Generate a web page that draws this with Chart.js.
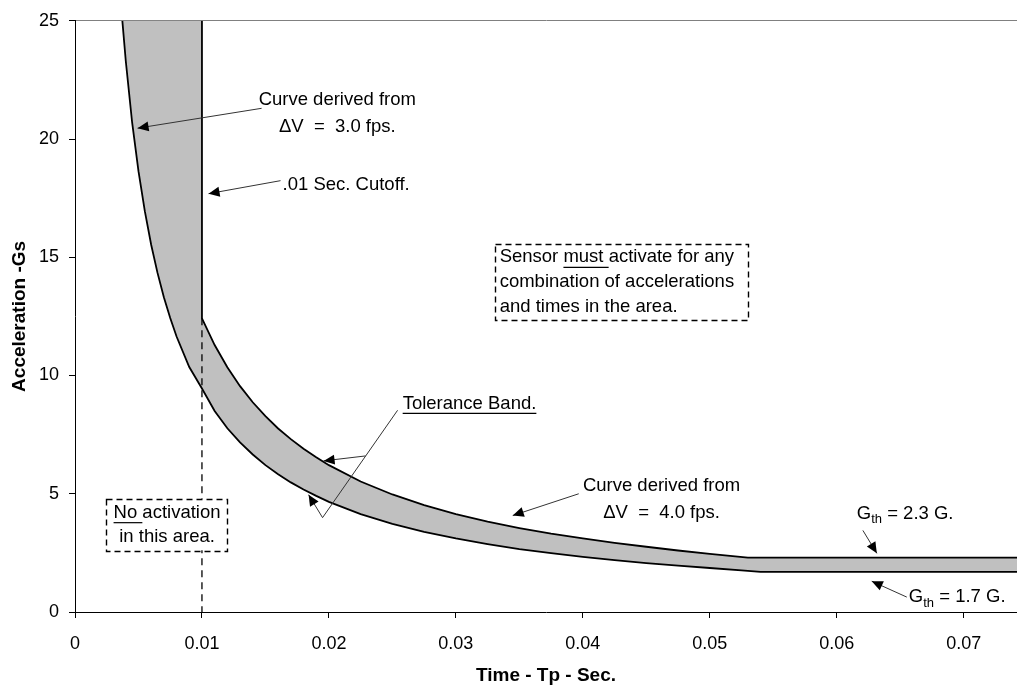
<!DOCTYPE html>
<html>
<head>
<meta charset="utf-8">
<script src="https://cdn.jsdelivr.net/npm/chart.js@4.4.0/dist/chart.umd.min.js"></script>
<style>
  html, body { margin: 0; padding: 0; background: #fff; }
  #wrap { width: 1017px; height: 685px; }
</style>
</head>
<body>
<div id="wrap"><canvas id="accelChart" width="1017" height="685"></canvas></div>
<script>
// tick labels
const xTicks = [0, 0.01, 0.02, 0.03, 0.04, 0.05, 0.06, 0.07];
const yTicks = [0, 5, 10, 15, 20, 25];

// lower curve (dV = 3.0 fps, floor at 1.7 G)
const lowerTime  = [0.00373, 0.004, 0.0045, 0.005, 0.0055, 0.006, 0.0065, 0.007, 0.0075, 0.008, 0.009, 0.010,
                    0.011, 0.012, 0.013, 0.014, 0.015, 0.016, 0.017, 0.018, 0.019, 0.020, 0.0225, 0.025,
                    0.0275, 0.030, 0.0325, 0.035, 0.0375, 0.040, 0.0425, 0.045, 0.0475, 0.050, 0.0525, 0.054, 0.075];
const lowerAccel = [25, 23.3, 20.7, 18.64, 16.95, 15.53, 14.34, 13.31, 12.43, 11.65, 10.36, 9.45,
                    8.5, 7.77, 7.17, 6.66, 6.21, 5.83, 5.48, 5.18, 4.91, 4.66, 4.14, 3.73,
                    3.39, 3.11, 2.87, 2.66, 2.49, 2.33, 2.19, 2.07, 1.96, 1.86, 1.76, 1.7, 1.7];

// upper boundary (.01 sec cutoff, then dV = 4.0 fps, floor at 2.3 G)
const upperTime  = [0.010, 0.010, 0.011, 0.012, 0.013, 0.014, 0.015, 0.016, 0.017, 0.018, 0.019, 0.020,
                    0.0225, 0.025, 0.0275, 0.030, 0.0325, 0.035, 0.0375, 0.040, 0.0425, 0.045, 0.0475,
                    0.050, 0.053, 0.075];
const upperAccel = [25, 12.42, 11.29, 10.35, 9.55, 8.87, 8.28, 7.76, 7.31, 6.9, 6.54, 6.21,
                    5.52, 4.97, 4.52, 4.14, 3.82, 3.55, 3.31, 3.11, 2.92, 2.76, 2.6,
                    2.46, 2.3, 2.3];

const cutoffTime = 0.01;

const FONT = '"Liberation Sans", Arial, sans-serif';

const lowerPts = lowerTime.map((t, i) => ({ x: t, y: lowerAccel[i] }));
const upperPts = upperTime.map((t, i) => ({ x: t, y: upperAccel[i] }));
const bandPts = lowerPts.concat(upperPts.slice().reverse());

// annotations: arrows, labels, dashed boxes
const notesPlugin = {
    id: 'notes',
    afterDatasetsDraw(chart) {
        const ctx = chart.ctx;
        const X = v => chart.scales.x.getPixelForValue(v);
        const Y = v => chart.scales.y.getPixelForValue(v);
        const f = (s, b) => (b ? 'bold ' : '') + s + 'px ' + FONT;

        ctx.save();
        ctx.fillStyle = '#000';
        ctx.textBaseline = 'middle';

        function line(x1, y1, x2, y2, color) {
            ctx.beginPath();
            ctx.strokeStyle = color || '#333';
            ctx.lineWidth = 1;
            ctx.moveTo(X(x1), Y(y1));
            ctx.lineTo(X(x2), Y(y2));
            ctx.stroke();
        }
        function arrow(x1, y1, x2, y2) {
            line(x1, y1, x2, y2);
            const ax = X(x2), ay = Y(y2);
            const ang = Math.atan2(ay - Y(y1), ax - X(x1));
            const len = 11, hw = 5;
            ctx.beginPath();
            ctx.fillStyle = '#000';
            ctx.moveTo(ax, ay);
            ctx.lineTo(ax - len * Math.cos(ang) + hw * Math.sin(ang), ay - len * Math.sin(ang) - hw * Math.cos(ang));
            ctx.lineTo(ax - len * Math.cos(ang) - hw * Math.sin(ang), ay - len * Math.sin(ang) + hw * Math.cos(ang));
            ctx.closePath();
            ctx.fill();
        }
        function text(str, x, y, align, dy) {
            ctx.font = f(18.5);
            ctx.textAlign = align || 'left';
            ctx.fillStyle = '#000';
            ctx.fillText(str, X(x), Y(y) + (dy || 0));
        }
        function underline(px, py, w) {
            ctx.beginPath();
            ctx.strokeStyle = '#000';
            ctx.lineWidth = 1.2;
            ctx.moveTo(px, py);
            ctx.lineTo(px + w, py);
            ctx.stroke();
        }
        function dashedBox(x1, y1, x2, y2) {
            const l = X(x1), t = Y(y1), r = X(x2), b = Y(y2);
            ctx.fillStyle = '#fff';
            ctx.fillRect(l, t, r - l, b - t);
            ctx.beginPath();
            ctx.setLineDash([6, 4]);
            ctx.strokeStyle = '#000';
            ctx.lineWidth = 1.4;
            ctx.strokeRect(Math.round(l) + 0.5, Math.round(t) + 0.5, Math.round(r - l), Math.round(b - t));
            ctx.setLineDash([]);
        }
        function gth(x, y, rest) {
            const px = X(x), py = Y(y);
            ctx.textAlign = 'left';
            ctx.fillStyle = '#000';
            ctx.font = f(18.5);
            ctx.fillText('G', px, py);
            let w = ctx.measureText('G').width;
            ctx.font = f(13);
            ctx.fillText('th', px + w, py + 6);
            w += ctx.measureText('th').width;
            ctx.font = f(18.5);
            ctx.fillText(rest, px + w, py);
        }

        // curve derived from 3.0 fps
        text('Curve derived from', 0.02066, 21.64, 'center');
        text('\u0394V  =  3.0 fps.', 0.02066, 21.64, 'center', 27);
        arrow(0.0147, 21.30, 0.00493, 20.46);

        // .01 sec cutoff
        text('.01 Sec. Cutoff.', 0.01635, 18.07, 'left');
        arrow(0.01619, 18.24, 0.01052, 17.69);

        // sensor must activate box
        dashedBox(0.03305, 15.55, 0.05299, 12.35);
        text('Sensor must activate for any', 0.03345, 15.0, 'left');
        text('combination of accelerations', 0.03345, 15.0, 'left', 25);
        text('and times in the area.', 0.03345, 15.0, 'left', 50);
        ctx.font = f(18.5);
        underline(X(0.03345) + ctx.measureText('Sensor ').width, Y(15.0) + 10,
                  ctx.measureText('must ').width);

        // tolerance band
        text('Tolerance Band.', 0.02581, 8.82, 'left');
        ctx.font = f(18.5);
        underline(X(0.02581), Y(8.82) + 10, ctx.measureText('Tolerance Band.').width);
        line(0.02541, 8.53, 0.0195, 3.99);
        arrow(0.0195, 3.99, 0.0184, 4.96);
        arrow(0.02289, 6.60, 0.01958, 6.39);

        // curve derived from 4.0 fps
        text('Curve derived from', 0.0462, 5.34, 'center');
        text('\u0394V  =  4.0 fps.', 0.0462, 5.34, 'center', 27);
        arrow(0.03968, 5.0, 0.03448, 4.08);

        // thresholds
        gth(0.06158, 4.16, ' = 2.3 G.');
        arrow(0.06206, 3.45, 0.06316, 2.48);
        gth(0.06568, 0.63, ' = 1.7 G.');
        arrow(0.06552, 0.63, 0.06276, 1.30);

        // no activation box
        dashedBox(0.00248, 4.79, 0.01202, 2.61);
        text('No activation', 0.00725, 4.2, 'center');
        text('in this area.', 0.00725, 4.2, 'center', 24);
        ctx.font = f(18.5);
        const full = ctx.measureText('No activation').width;
        underline(X(0.00725) - full / 2, Y(4.2) + 10, ctx.measureText('No ').width);

        ctx.restore();
    }
};

new Chart(document.getElementById('accelChart'), {
    type: 'scatter',
    data: {
        datasets: [
            {
                label: 'dV 3.0 fps',
                data: lowerPts,
                showLine: true,
                borderColor: '#000',
                borderWidth: 1.8,
                pointRadius: 0,
                fill: false,
                order: 0
            },
            {
                label: 'upper',
                data: upperPts,
                showLine: true,
                borderColor: '#000',
                borderWidth: 1.8,
                pointRadius: 0,
                fill: false,
                order: 0
            },
            {
                label: 'cutoff',
                data: [{ x: cutoffTime, y: upperAccel[1] }, { x: cutoffTime, y: 0 }],
                showLine: true,
                borderColor: '#000',
                borderWidth: 1.3,
                borderDash: [7, 5],
                pointRadius: 0,
                fill: false,
                order: 1
            },
            {
                label: 'band',
                data: bandPts,
                showLine: true,
                borderColor: 'rgba(0,0,0,0)',
                borderWidth: 0,
                backgroundColor: '#c0c0c0',
                pointRadius: 0,
                fill: 'shape',
                order: 3
            }
        ]
    },
    options: {
        responsive: false,
        animation: false,
        devicePixelRatio: 1,
        layout: { padding: { top: 17, right: 0, left: 0, bottom: 0 } },
        plugins: {
            legend: { display: false },
            tooltip: { enabled: false }
        },
        scales: {
            x: {
                type: 'linear',
                min: 0,
                max: 0.0742,
                afterBuildTicks: s => { s.ticks = xTicks.map(v => ({ value: v })); },
                afterFit: s => { s.height = 73; },
                border: { color: '#000', width: 1 },
                grid: { drawOnChartArea: false, tickLength: 6, color: '#000' },
                ticks: {
                    includeBounds: false,
                    autoSkip: false,
                    maxRotation: 0,
                    padding: 15,
                    color: '#000',
                    font: { family: FONT, size: 18 },
                    callback: v => String(v)
                },
                title: {
                    display: true,
                    text: 'Time - Tp - Sec.',
                    color: '#000',
                    font: { family: FONT, size: 19, weight: 'bold' },
                    padding: { top: 0, bottom: -2 }
                }
            },
            y: {
                min: 0,
                max: 25,
                afterBuildTicks: s => { s.ticks = yTicks.map(v => ({ value: v })); },
                afterFit: s => { s.width = 75; },
                border: { color: '#000', width: 1 },
                grid: {
                    color: c => (c.tick && c.tick.value === 25 ? '#808080' : 'rgba(0,0,0,0)'),
                    tickColor: '#000',
                    tickLength: 6
                },
                ticks: {
                    padding: 10,
                    color: '#000',
                    font: { family: FONT, size: 18 }
                },
                title: {
                    display: true,
                    text: 'Acceleration -Gs',
                    color: '#000',
                    font: { family: FONT, size: 19, weight: 'bold' },
                    padding: { top: 8, bottom: 0 }
                }
            }
        }
    },
    plugins: [notesPlugin]
});
</script>
</body>
</html>
